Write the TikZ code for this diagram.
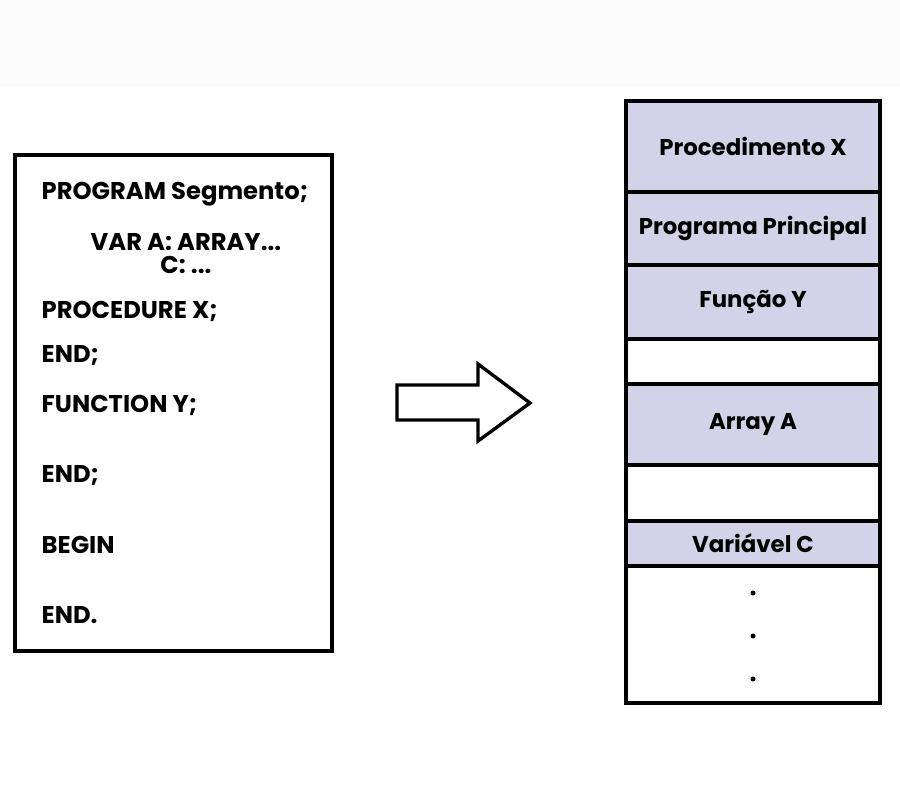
\documentclass[tikz,border=0pt]{standalone}
\usepackage{fontspec}
\setmainfont{Poppins}
\definecolor{cellfill}{RGB}{212,210,232}
\begin{document}
\begin{tikzpicture}[x=0.02cm, y=-0.02cm, line width=1.9pt, font=\bfseries\fontsize{13.8}{16}\selectfont,
  code/.style={anchor=west, inner sep=0pt},
  cell/.style={draw, fill=cellfill, minimum width=5.08cm, inner sep=0pt, font=\bfseries\fontsize{13}{15}\selectfont},
  gap/.style={cell, fill=white}]
\useasboundingbox (0,0) rectangle (900,800);
\fill[black!1] (0,0) rectangle (900,87);
% program text
\draw (15,155) rectangle (332,651);
\node[code] (l1) at (40,194) {PROGRAM Segmento;};
\node[inner sep=0pt] (l2) at (186,242) {VAR A: ARRAY...};
\node[inner sep=0pt] (l3) at (186,265) {C: ...};
\node[code] (l4) at (40,311) {PROCEDURE X;};
\node[code] (l5) at (40,356) {END;};
\node[code] (l6) at (40,405) {FUNCTION Y;};
\node[code] (l7) at (40,476) {END;};
\node[code] (l8) at (40,545) {BEGIN};
\node[code] (l9) at (40,615) {END.};
% arrow
\draw[line join=miter] (397,385) -- (478,385) -- (478,364) -- (530,403) -- (478,441) -- (478,420) -- (397,420) -- cycle;
% memory
\node[cell, minimum height=1.82cm] (proc) at (753,146.5) {Procedimento X};
\node[cell, minimum height=1.46cm] (prog) at (753,228.5) {Programa Principal};
\node[cell, minimum height=1.48cm] (func) at (753,302) {Função Y};
\node[gap, minimum height=0.90cm] (e1) at (753,361.5) {};
\node[cell, minimum height=1.62cm] (arr) at (753,424.5) {Array A};
\node[gap, minimum height=1.12cm] (e2) at (753,493) {};
\node[cell, minimum height=0.90cm] (varc) at (753,543.5) {Variável C};
\node[gap, minimum height=2.74cm] (rest) at (753,634.5) {};
\foreach \y in {593,636,679}
  \fill (753,\y) circle (2.5);
\end{tikzpicture}
\end{document}
